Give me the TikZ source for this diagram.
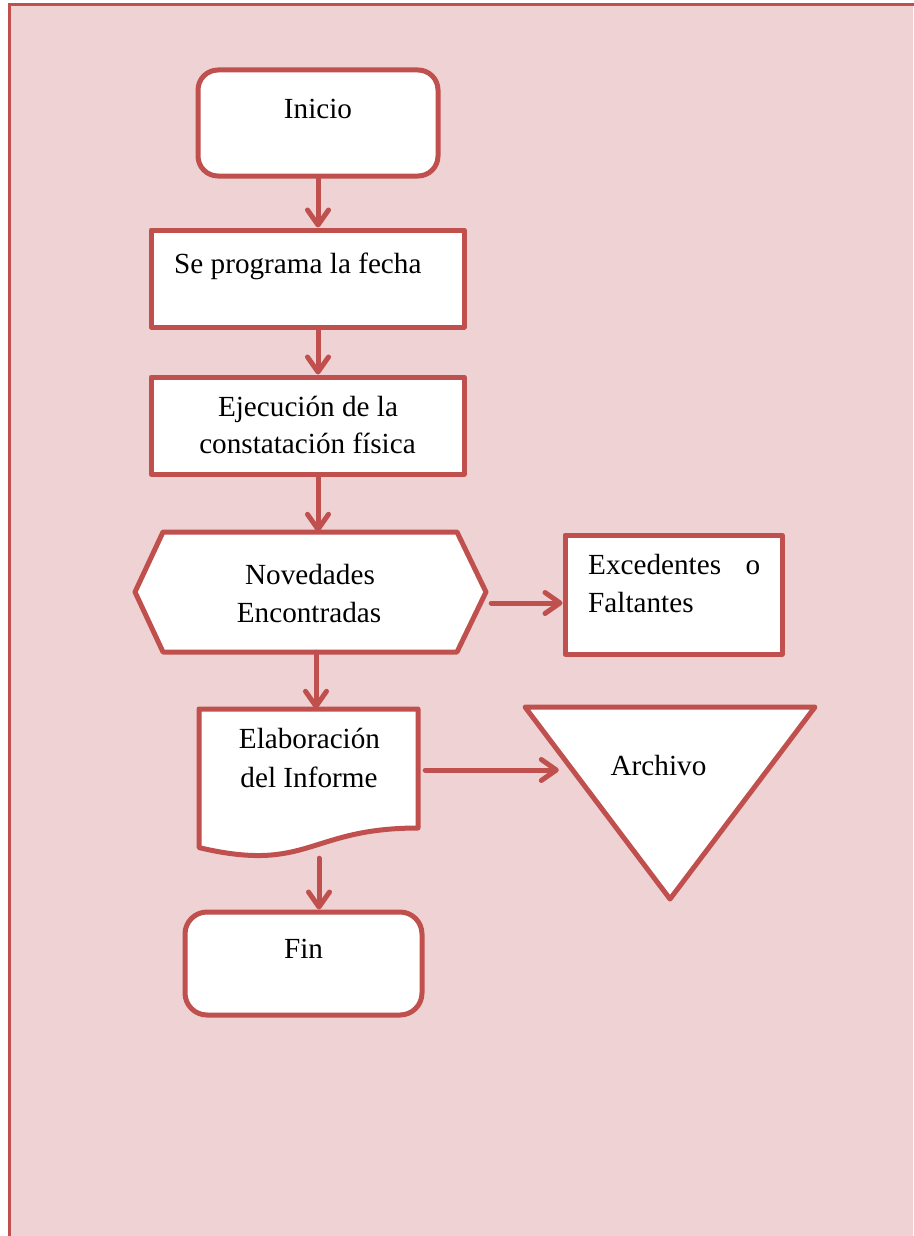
\documentclass[tikz,border=0pt]{standalone}
\usepackage{fontspec}
\setmainfont{Liberation Serif}
\usetikzlibrary{arrows.meta}
\definecolor{framered}{HTML}{C0504D}
\definecolor{bgpink}{HTML}{EFD3D4}
\begin{document}
\begin{tikzpicture}[x=1pt,y=-1pt,
  shp/.style={draw=framered, line width=5pt, fill=white, line join=round},
  ghost/.style={inner sep=0pt, draw=none},
  arr/.style={draw=framered, line width=5pt, line cap=round,
    -{Straight Barb[length=15pt,width=21pt,line cap=round,line join=round]}},
  txt/.style={inner sep=0pt, anchor=base, font=\fontsize{29.2}{37}\selectfont, text=black}]
\useasboundingbox (0,0) rectangle (913,1236);
\fill[bgpink] (9,5) rectangle (913,1236);
\draw[framered, line width=3pt] (9,1240) -- (9,5) -- (917,5);

% Inicio
\node[shp, rounded corners=20pt, minimum width=240pt, minimum height=106pt, inner sep=0pt] (inicio) at (318,123) {};
\node[txt] (tinicio) at (318,118) {Inicio};

% Se programa la fecha
\node[shp, minimum width=313pt, minimum height=97pt, inner sep=0pt] (prog) at (307.5,278.5) {};
\node[txt, anchor=base west] (tprog) at (174,273) {Se programa la fecha};

% Ejecucion
\node[shp, minimum width=313pt, minimum height=97pt, inner sep=0pt] (eje) at (307.5,425.5) {};
\node[txt] (teje1) at (308,416) {Ejecución de la};
\node[txt] (teje2) at (307.5,453) {constatación física};

% Novedades (hexagon)
\node[ghost, minimum width=351pt, minimum height=120pt] (nov) at (310.5,592) {};
\draw[shp] (135,592) -- (163,532) -- (457,532) -- (486,592) -- (457,652) -- (163,652) -- cycle;
\node[txt] (tnov1) at (310,584) {Novedades};
\node[txt] (tnov2) at (309,622) {Encontradas};

% Excedentes o Faltantes
\node[shp, minimum width=217pt, minimum height=119pt, inner sep=0pt] (exc) at (673.5,594.5) {};
\node[txt, anchor=base west] (texc1) at (588,574) {\makebox[172pt][l]{Excedentes\hfill o}};
\node[txt, anchor=base west] (texc2) at (588,612) {Faltantes};

% Elaboracion del Informe (document)
\node[ghost, minimum width=219pt, minimum height=139pt] (doc) at (308.5,778.5) {};
\draw[shp] (199,709) -- (418,709) -- (418,828) .. controls (308.5,828) and (308.5,873.4) .. (199,847.6) -- cycle;
\node[txt] (tdoc1) at (309.5,748) {Elaboración};
\node[txt] (tdoc2) at (309,787) {del Informe};

% Archivo (triangle)
\node[ghost, minimum width=290pt, minimum height=192pt] (arch) at (670,803) {};
\draw[shp] (525,707) -- (815,707) -- (670,899) -- cycle;
\node[txt] (tarch) at (658.5,775) {Archivo};

% Fin
\node[shp, rounded corners=22pt, minimum width=237pt, minimum height=103pt, inner sep=0pt] (fin) at (303.5,963.5) {};
\node[txt] (tfin) at (303.5,958) {Fin};

% connectors
\draw[arr] (inicio.south) -- (inicio.south |- prog.north);
\draw[arr] (inicio.south |- prog.south) -- (inicio.south |- eje.north);
\draw[arr] (inicio.south |- eje.south) -- (inicio.south |- nov.north);
\draw[arr] ([xshift=5.5pt]nov.south) -- ([xshift=7.5pt]doc.north);
\coordinate (a5s) at ([shift={(5,11)}]nov.east);
\draw[arr] (a5s) -- (a5s -| exc.west);
\coordinate (a6s) at ([shift={(7,-8.5)}]doc.east);
\coordinate (a6e) at ([xshift=34pt]a6s -| arch.west);
\draw[arr] (a6s) -- (a6e);
\coordinate (a7s) at ([shift={(10.5,10)}]doc.south);
\draw[arr] (a7s) -- (a7s |- fin.north);
\end{tikzpicture}
\end{document}
